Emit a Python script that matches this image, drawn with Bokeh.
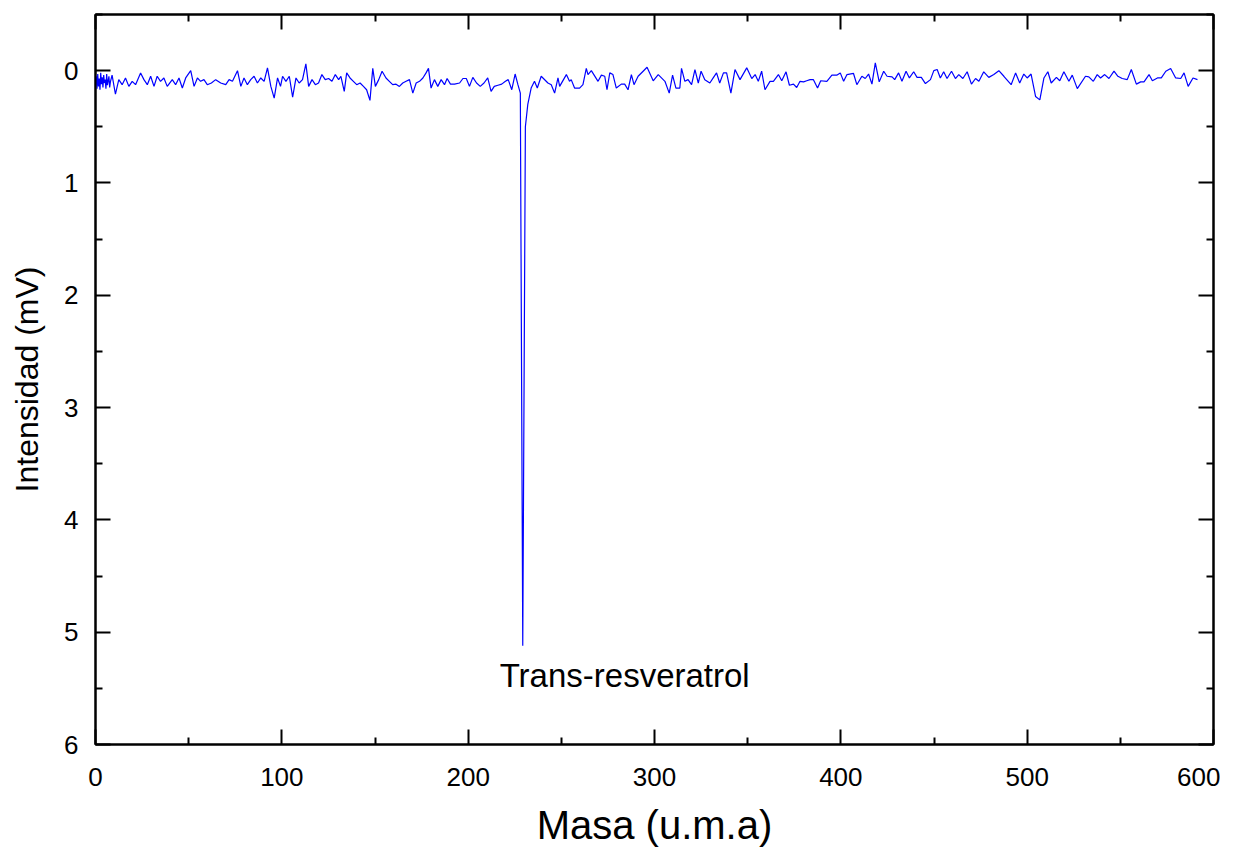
from bokeh.plotting import figure
from bokeh.models import Range1d, LinearAxis, FixedTicker, Label, ColumnDataSource
from bokeh.embed import file_html
from bokeh.resources import INLINE

# ---------------- data ----------------
mass_start = [0.0, 0.4, 0.8, 1.2, 1.6, 2.0, 2.4, 2.8, 3.2, 3.6, 4.0, 4.4, 4.8, 5.2,
              5.6, 6.0, 6.4, 6.8, 7.2, 7.6, 8.0]
intens_start = [0.12, 0.05, 0.16, 0.03, 0.14, 0.07, 0.17, 0.02, 0.12, 0.06, 0.15, 0.04,
                0.11, 0.08, 0.16, 0.03, 0.13, 0.09, 0.05, 0.15, 0.10]

mass_left = [8.9, 10.7, 12.5, 14.3, 16.1, 17.9, 19.7, 21.5, 24.2, 26.0, 27.8, 29.6, 31.4,
             33.1, 34.9, 36.7, 38.5, 41.2, 43.0, 44.8, 46.6, 48.4, 51.1, 52.9, 54.7, 56.4,
             58.2, 60.0, 62.2, 64.5, 67.2, 69.9, 71.7, 73.5, 76.2, 78.0, 79.7, 81.5, 83.3,
             85.1, 86.9, 88.7, 90.5, 92.3, 94.1, 95.9, 97.7, 99.3, 100.4, 102.2, 104.0,
             105.8, 107.6, 109.3, 111.1, 112.9, 114.4, 116.2, 118.0, 119.7, 121.5, 123.3,
             125.1, 126.9, 128.7, 130.5, 131.7, 133.5, 134.8, 136.6, 138.4, 140.2, 142.0,
             143.8, 145.5, 147.3, 148.8, 150.2, 152.0, 153.8, 155.9, 157.7, 159.5, 161.3,
             163.1, 164.9, 166.7, 168.5, 170.3, 172.1, 173.9, 175.7, 177.4, 178.7, 180.1,
             181.9, 183.7, 185.5, 187.3, 188.7, 190.5, 192.7, 195.4, 197.2, 199.0, 200.7,
             202.5, 204.5, 206.5, 208.5, 210.5, 212.3, 214.0, 216.0, 218.0, 220.0, 221.5,
             223.4, 225.2, 226.7]
intens_left = [0.04, 0.21, 0.08, 0.125, 0.065, 0.14, 0.095, 0.125, 0.02, 0.08, 0.125, 0.05,
               0.14, 0.05, 0.095, 0.065, 0.14, 0.08, 0.125, 0.065, 0.155, 0.065, 0.0, 0.14,
               0.065, 0.095, 0.08, 0.125, 0.11, 0.08, 0.11, 0.125, 0.08, 0.095, 0.0, 0.14,
               0.065, 0.125, 0.08, 0.05, 0.11, 0.065, 0.095, -0.025, 0.14, 0.245, 0.065,
               0.14, 0.05, 0.095, 0.05, 0.235, 0.065, 0.11, 0.08, -0.06, 0.14, 0.08, 0.125,
               0.11, 0.035, 0.08, 0.07, 0.095, 0.035, 0.08, 0.05, 0.185, 0.02, 0.065, 0.095,
               0.125, 0.11, 0.14, 0.17, 0.265, -0.02, 0.14, 0.08, 0.005, 0.065, 0.095, 0.125,
               0.12, 0.14, 0.11, 0.095, 0.08, 0.2, 0.11, 0.095, 0.065, 0.02, -0.02, 0.155,
               0.08, 0.14, 0.08, 0.125, 0.07, 0.12, 0.12, 0.11, 0.07, 0.07, 0.14, 0.06, 0.11,
               0.14, 0.11, 0.065, 0.185, 0.14, 0.13, 0.12, 0.095, 0.08, 0.17, 0.03, 0.125]

mass_peak = [228.0, 229.3, 230.7, 232.0, 233.8, 235.6, 237.1, 239.2]
intens_peak = [0.2, 5.12, 0.5, 0.3, 0.155, 0.095, 0.155, 0.05]

mass_right = [242.8, 244.6, 246.4, 248.2, 249.1, 252.7, 254.4, 255.3, 257.1, 259.8, 261.6,
              263.4, 264.3, 266.1, 269.7, 271.5, 273.3, 274.5, 276.0, 277.7, 279.5, 282.2,
              284.0, 285.8, 287.6, 289.0, 291.2, 293.9, 296.0, 299.3, 302.0, 305.6, 307.9,
              309.7, 311.5, 313.6, 314.5, 316.3, 318.0, 319.9, 321.7, 323.5, 325.0, 327.0,
              329.7, 331.5, 333.3, 335.0, 337.0, 338.7, 341.0, 343.2, 345.9, 349.5, 352.2,
              354.0, 355.7, 357.5, 359.3, 362.0, 363.8, 366.5, 368.3, 370.6, 372.4, 374.6,
              376.3, 378.1, 380.0, 381.7, 383.5, 385.3, 387.5, 389.2, 392.5, 395.2, 397.8,
              399.7, 401.5, 403.3, 406.8, 408.6, 411.3, 413.1, 414.9, 416.7, 418.5, 420.6,
              423.0, 424.8, 427.5, 428.9, 431.0, 432.8, 435.0, 436.8, 439.1, 440.9, 443.2,
              445.4, 448.1, 449.9, 451.7, 453.4, 455.2, 457.0, 459.4, 461.5, 463.3, 465.5,
              467.8, 470.1, 472.3, 474.1, 476.7, 479.4, 482.1, 484.8, 487.5, 491.4, 493.8,
              496.0, 498.2, 500.0, 502.1, 504.5, 506.8, 509.0, 511.1, 512.9, 515.7, 517.5,
              519.7, 522.4, 524.2, 526.9, 531.3, 533.1, 535.5, 537.6, 539.4, 541.6, 543.9,
              546.6, 548.7, 551.0, 553.7, 555.9, 558.6, 560.9, 562.7, 565.4, 567.2, 569.9,
              572.0, 574.4, 577.0, 579.7, 582.4, 584.2, 586.4, 589.0, 591.4]
intens_right = [0.11, 0.125, 0.2, 0.065, 0.14, 0.035, 0.095, 0.08, 0.155, 0.155, 0.125,
                -0.02, 0.035, 0.0, 0.095, 0.04, 0.05, 0.17, 0.02, 0.035, 0.155, 0.12, 0.12,
                0.17, 0.035, 0.125, 0.05, 0.005, -0.03, 0.09, 0.035, 0.095, 0.2, 0.04, 0.155,
                0.155, -0.02, 0.095, 0.08, 0.125, -0.01, 0.11, 0.005, 0.08, 0.11, 0.065, 0.02,
                0.11, 0.02, 0.02, 0.2, -0.01, 0.08, -0.025, 0.07, 0.035, 0.095, 0.005, 0.17,
                0.095, 0.095, 0.035, 0.09, 0.01, 0.13, 0.12, 0.15, 0.095, 0.1, 0.09, 0.08,
                0.08, 0.155, 0.09, 0.095, 0.04, 0.04, 0.02, 0.095, 0.035, 0.025, 0.125, 0.05,
                0.07, 0.03, 0.12, -0.07, 0.1, 0.005, 0.05, 0.055, 0.08, 0.02, 0.095, 0.005,
                0.065, 0.01, 0.06, 0.06, 0.115, 0.08, 0.0, -0.01, 0.065, 0.01, 0.07, 0.005,
                0.07, 0.035, 0.07, 0.01, 0.12, 0.07, 0.095, 0.01, 0.06, 0.035, 0.0, 0.05,
                0.125, 0.02, 0.11, 0.03, 0.065, 0.03, 0.23, 0.26, 0.065, 0.01, 0.11, 0.06,
                0.09, 0.01, 0.095, 0.04, 0.16, 0.05, 0.055, 0.095, 0.035, 0.065, 0.035, 0.07,
                0.005, 0.05, 0.07, 0.08, -0.01, 0.12, 0.1, 0.1, 0.035, 0.09, 0.065, 0.065,
                0.005, -0.02, 0.065, 0.07, 0.02, 0.14, 0.065, 0.08]

x_ticks = [0, 100, 200, 300, 400, 500, 600]
x_minor = [50, 150, 250, 350, 450, 550]
y_ticks = [0, 1, 2, 3, 4, 5, 6]
y_minor = [-0.5, 0.5, 1.5, 2.5, 3.5, 4.5, 5.5]

x_label = "Masa (u.m.a)"
y_label = "Intensidad (mV)"
peak_name = "Trans-resveratrol"
peak_label_x = 284
peak_label_y = 5.39

FONT = "Liberation Sans"

mass = mass_start + mass_left + mass_peak + mass_right
intens = intens_start + intens_left + intens_peak + intens_right
src = ColumnDataSource(dict(x=mass, y=intens))

p = figure(width=1220, height=849, output_backend="svg", toolbar_location=None,
           x_range=Range1d(0, 600), y_range=Range1d(6, -0.5),
           min_border_left=95, min_border_right=7, min_border_top=14,
           min_border_bottom=104, x_axis_location=None, y_axis_location=None)
p.grid.visible = False
p.outline_line_color = "black"
p.outline_line_width = 2
p.background_fill_color = "white"
p.border_fill_color = "white"

p.line("x", "y", source=src, line_color="#0000FF", line_width=1.2)


def style(ax, labels=True):
    ax.major_tick_in = 15
    ax.major_tick_out = 0
    ax.minor_tick_in = 7
    ax.minor_tick_out = 0
    ax.major_tick_line_width = 2
    ax.minor_tick_line_width = 2
    ax.major_tick_line_color = "black"
    ax.minor_tick_line_color = "black"
    ax.axis_line_width = 2
    ax.axis_line_color = "black"
    ax.major_label_text_font = FONT
    ax.major_label_text_color = "black"
    ax.axis_label_text_font = FONT
    ax.axis_label_text_font_style = "normal"
    ax.axis_label_text_color = "black"
    if labels:
        ax.major_label_text_font_size = "26px"
    else:
        ax.major_label_text_font_size = "0px"
        ax.major_label_standoff = 0


xb = LinearAxis(ticker=FixedTicker(ticks=x_ticks, minor_ticks=x_minor), axis_label=x_label)
style(xb)
xb.major_label_standoff = 23
xb.axis_label_text_font_size = "40px"
xb.axis_label_standoff = 14
p.add_layout(xb, "below")

yl = LinearAxis(ticker=FixedTicker(ticks=y_ticks, minor_ticks=y_minor), axis_label=y_label)
style(yl)
yl.major_label_standoff = 17
yl.axis_label_text_font_size = "32px"
yl.axis_label_standoff = 16
p.add_layout(yl, "left")

xt = LinearAxis(ticker=FixedTicker(ticks=x_ticks, minor_ticks=x_minor))
style(xt, labels=False)
p.add_layout(xt, "above")

yr = LinearAxis(ticker=FixedTicker(ticks=y_ticks, minor_ticks=y_minor))
style(yr, labels=False)
p.add_layout(yr, "right")

p.add_layout(Label(x=peak_label_x, y=peak_label_y, text=peak_name, text_align="center",
                   text_baseline="middle", text_font=FONT, text_font_size="33px",
                   text_color="black"))

open("out.html", "w").write(file_html(p, INLINE))
